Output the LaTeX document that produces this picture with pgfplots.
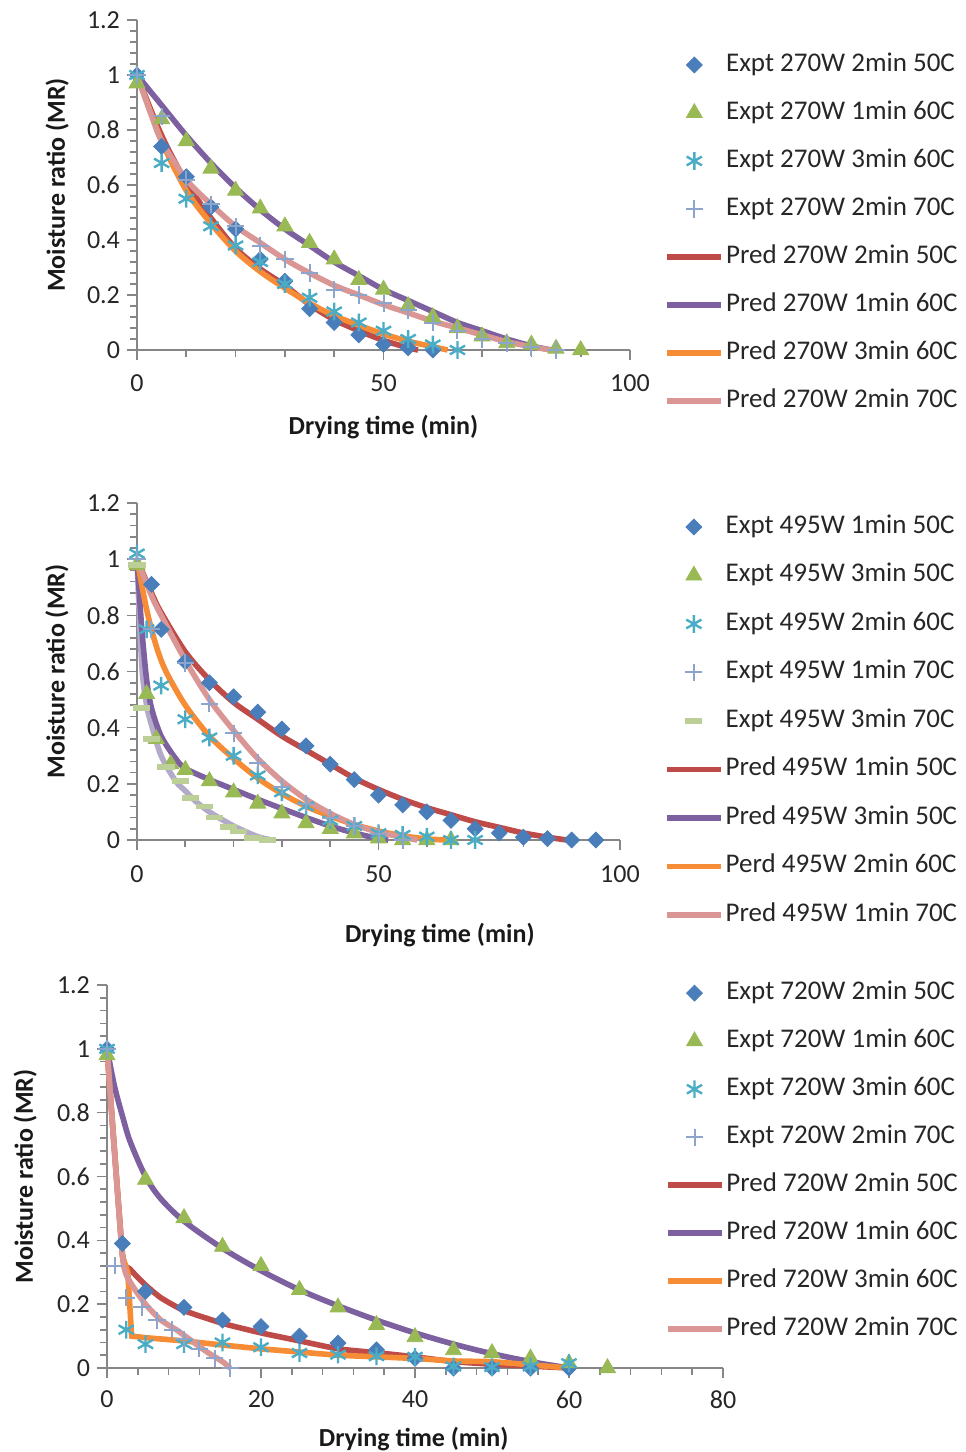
\documentclass[border=0pt]{standalone}
\usepackage{fontspec}
\setmainfont{Carlito}
\usepackage{pgfplots}
\pgfplotsset{compat=1.18}

\definecolor{axgrey}{HTML}{868686}
\definecolor{cBlue}{HTML}{4A7EBB}
\definecolor{cGreen}{HTML}{98B954}
\definecolor{cCyan}{HTML}{4BACC6}
\definecolor{cPlus}{HTML}{8EA5CB}
\definecolor{cDash}{HTML}{BCCF96}
\definecolor{cRed}{HTML}{BE4B48}
\definecolor{cPurple}{HTML}{7D60A0}
\definecolor{cOrange}{HTML}{F68C36}
\definecolor{cPink}{HTML}{D99694}
\definecolor{cGrey}{HTML}{B3A9C9}

\pgfplotsset{
  dry/.style={
    scale only axis, clip=false,
    axis x line*=bottom, axis y line*=left,
    axis line style={axgrey, line width=0.8pt},
    tick style={axgrey, line width=0.8pt},
    tick align=outside, major tick length=5pt, minor tick length=3.5pt,
    ymin=0, ymax=1.2, ytick={0,0.2,0.4,0.6,0.8,1,1.2}, minor y tick num=4,
    tick label style={font=\fontsize{13}{15}\selectfont, text=black!85},
    /pgf/number format/assume math mode=true,
    label style={font=\bfseries\fontsize{13}{15}\selectfont, text=black!90},
    ylabel={Moisture ratio (MR)}, xlabel={Drying time (min)},
    legend cell align=left,
    legend style={draw=none, fill=none, anchor=north west,
      font=\fontsize{13.5}{15}\selectfont, text=black!85, row sep=9.5pt,
      nodes={inner sep=1pt, text height=9.5pt, text depth=3pt}},
  },
  ex/.style={only marks,
    legend image code/.code={\path (0pt,0pt) (27pt,0pt); \draw[##1] plot coordinates {(13.5pt,0pt)};}},
  pr/.style={line width=2.8pt, smooth, tension=0.5, no markers,
    legend image code/.code={\draw[##1] (0pt,0pt) -- (27pt,0pt);}},
  eA/.style={ex, mark=square*, mark size=2.8pt, mark options={rotate=45}, color=cBlue},
  eB/.style={ex, mark=triangle*, mark size=4.6pt, color=cGreen},
  eC/.style={ex, mark=asterisk, mark size=4.4pt, color=cCyan, mark options={line width=1.2pt}},
  eD/.style={ex, mark=+, mark size=4.3pt, color=cPlus, mark options={line width=1pt}},
  eE/.style={ex, mark=-, mark size=4.3pt, color=cDash, mark options={line width=2.8pt}},
}

\begin{document}
\begin{tikzpicture}
\useasboundingbox (0,0) rectangle (482.5pt,-726pt);

% ---------- 270 W ----------
\begin{axis}[dry, at={(68.5pt,-175pt)}, anchor=south west,
  width=246.5pt, height=165pt, xmin=0, xmax=100, xtick={0,50,100}, minor x tick num=4,
  xticklabel style={yshift=-4pt},
  ylabel style={at={(axis description cs:-0.162,0.5)}, anchor=center},
  xlabel style={at={(axis description cs:0.5,0)}, anchor=center, yshift=-38.5pt},
  legend style={at={(axis description cs:1.057,0.921)}}]
\addplot[eA] coordinates {(0,1) (5,0.74) (10,0.63) (15,0.52) (20,0.44) (25,0.33) (30,0.25) (35,0.15) (40,0.10) (45,0.055) (50,0.02) (55,0.008) (60,0)};
\addlegendentry{Expt 270W 2min 50C}
\addplot[eB] coordinates {(0,0.97) (5,0.84) (10,0.76) (15,0.66) (20,0.58) (25,0.515) (30,0.45) (35,0.39) (40,0.33) (45,0.255) (50,0.22) (55,0.16) (60,0.12) (65,0.08) (70,0.05) (75,0.025) (80,0.02) (85,0.005) (90,0)};
\addlegendentry{Expt 270W 1min 60C}
\addplot[eC] coordinates {(0,1) (5,0.68) (10,0.55) (15,0.45) (20,0.38) (25,0.32) (30,0.24) (35,0.19) (40,0.14) (45,0.10) (50,0.07) (55,0.04) (60,0.02) (65,0)};
\addlegendentry{Expt 270W 3min 60C}
\addplot[eD] coordinates {(0,1) (5,0.85) (10,0.62) (15,0.53) (20,0.45) (25,0.38) (30,0.33) (35,0.28) (40,0.22) (45,0.2) (50,0.17) (55,0.145) (60,0.10) (65,0.07) (70,0.04) (75,0.025) (80,0.01) (85,0)};
\addlegendentry{Expt 270W 2min 70C}
\addplot[pr, cRed] coordinates {(0,1) (5,0.78) (10,0.61) (15,0.48) (20,0.37) (25,0.295) (30,0.235) (35,0.165) (40,0.11) (45,0.07) (50,0.035) (55,0.008) (57,0)};
\addlegendentry{Pred 270W 2min 50C}
\addplot[pr, cPurple] coordinates {(0,1) (5,0.89) (10,0.78) (15,0.68) (20,0.59) (25,0.51) (30,0.44) (35,0.38) (40,0.32) (45,0.27) (50,0.22) (55,0.18) (60,0.14) (65,0.10) (70,0.07) (75,0.04) (80,0.015) (84,0)};
\addlegendentry{Pred 270W 1min 60C}
\addplot[pr, cOrange] coordinates {(0,1) (5,0.76) (10,0.58) (15,0.46) (20,0.36) (25,0.285) (30,0.225) (35,0.17) (40,0.125) (45,0.09) (50,0.058) (55,0.032) (60,0.012) (63,0)};
\addlegendentry{Pred 270W 3min 60C}
\addplot[pr, cPink] coordinates {(0,1) (3,0.85) (5,0.76) (10,0.62) (15,0.53) (20,0.45) (25,0.39) (30,0.33) (35,0.28) (40,0.235) (45,0.2) (50,0.165) (55,0.135) (60,0.105) (65,0.08) (70,0.055) (75,0.03) (80,0.012) (84,0)};
\addlegendentry{Pred 270W 2min 70C}
\end{axis}

% ---------- 495 W ----------
\begin{axis}[dry, at={(68.5pt,-420pt)}, anchor=south west,
  width=241.5pt, height=168.5pt, xmin=0, xmax=100, xtick={0,50,100}, minor x tick num=4,
  xticklabel style={yshift=-4.5pt},
  ylabel style={at={(axis description cs:-0.166,0.5)}, anchor=center},
  xlabel style={at={(axis description cs:0.627,0)}, anchor=center, yshift=-47.5pt},
  legend style={at={(axis description cs:1.078,0.985)}, row sep=9.75pt}]
\addplot[eA] coordinates {(3,0.91) (5,0.75) (10,0.635) (15,0.56) (20,0.51) (25,0.455) (30,0.395) (35,0.335) (40,0.27) (45,0.215) (50,0.16) (55,0.125) (60,0.10) (65,0.07) (70,0.04) (75,0.025) (80,0.01) (85,0.005) (90,0) (95,0)};
\addlegendentry{Expt 495W 1min 50C}
\addplot[eB] coordinates {(0,0.98) (2,0.52) (4,0.36) (7,0.27) (10,0.25) (15,0.21) (20,0.17) (25,0.13) (30,0.095) (35,0.06) (40,0.04) (45,0.024) (50,0.006) (55,0) (60,0) (65,0)};
\addlegendentry{Expt 495W 3min 50C}
\addplot[eC] coordinates {(0,1.02) (2,0.75) (5,0.55) (10,0.43) (15,0.365) (20,0.30) (25,0.23) (30,0.17) (35,0.12) (40,0.07) (45,0.05) (50,0.024) (55,0.018) (60,0.012) (65,0) (70,0)};
\addlegendentry{Expt 495W 2min 60C}
\addplot[eD] coordinates {(0,1) (3,0.75) (10,0.63) (15,0.485) (20,0.38) (25,0.275) (30,0.19) (35,0.13) (40,0.08) (45,0.05) (50,0.02) (55,0)};
\addlegendentry{Expt 495W 1min 70C}
\addplot[eE] coordinates {(0,0.98) (1,0.47) (3,0.36) (6,0.26) (9,0.21) (11,0.15) (14,0.12) (16,0.08) (19,0.046) (21,0.03) (24,0.007) (27,0)};
\addlegendentry{Expt 495W 3min 70C}
\addplot[pr, cGrey, forget plot] coordinates {(0,1) (1,0.62) (2,0.48) (3,0.41) (5,0.3) (8,0.21) (10,0.175) (12,0.14) (15,0.1) (20,0.05) (25,0.012) (28,0)};
\addplot[pr, cRed] coordinates {(0,1) (3,0.88) (5,0.81) (10,0.67) (15,0.57) (20,0.49) (25,0.43) (30,0.37) (35,0.32) (40,0.27) (45,0.22) (50,0.18) (55,0.145) (60,0.115) (65,0.09) (70,0.065) (75,0.045) (80,0.025) (85,0.01) (89,0)};
\addlegendentry{Pred 495W 1min 50C}
\addplot[pr, cPurple] coordinates {(0,1) (1,0.75) (2,0.57) (3,0.47) (5,0.37) (8,0.29) (10,0.255) (15,0.215) (20,0.18) (25,0.145) (30,0.112) (35,0.08) (40,0.05) (45,0.025) (50,0.005) (52,0)};
\addlegendentry{Pred 495W 3min 50C}
\addplot[pr, cOrange] coordinates {(0,1) (2,0.82) (4,0.69) (6,0.6) (10,0.48) (15,0.37) (20,0.29) (25,0.22) (30,0.165) (35,0.12) (40,0.085) (45,0.055) (50,0.032) (55,0.015) (60,0.004) (64,0)};
\addlegendentry{Perd 495W 2min 60C}
\addplot[pr, cPink] coordinates {(0,1) (3,0.87) (5,0.8) (10,0.64) (15,0.5) (20,0.39) (25,0.29) (30,0.21) (35,0.145) (40,0.095) (45,0.055) (50,0.028) (55,0.01) (58,0)};
\addlegendentry{Pred 495W 1min 70C}
\end{axis}

% ---------- 720 W ----------
\begin{axis}[dry, at={(53.5pt,-684pt)}, anchor=south west,
  width=308pt, height=191.5pt, xmin=0, xmax=80, xtick={0,20,40,60,80}, minor x tick num=4,
  xticklabel style={yshift=-3pt},
  ylabel style={at={(axis description cs:-0.133,0.5)}, anchor=center},
  xlabel style={at={(axis description cs:0.498,0)}, anchor=center, yshift=-35.5pt},
  legend style={at={(axis description cs:0.895,1.028)}}]
\addplot[eA] coordinates {(0,1) (2,0.39) (5,0.24) (10,0.19) (15,0.15) (20,0.13) (25,0.10) (30,0.078) (35,0.057) (40,0.03) (45,0) (50,0) (55,0) (60,0)};
\addlegendentry{Expt 720W 2min 50C}
\addplot[eB] coordinates {(0,0.98) (5,0.59) (10,0.47) (15,0.38) (20,0.32) (25,0.245) (30,0.19) (35,0.135) (40,0.097) (45,0.056) (50,0.047) (55,0.03) (60,0.015) (65,0)};
\addlegendentry{Expt 720W 1min 60C}
\addplot[eC] coordinates {(0,1) (2.5,0.12) (5,0.075) (10,0.075) (15,0.08) (20,0.065) (25,0.047) (30,0.042) (35,0.037) (40,0.035) (45,0.005) (50,0.003) (55,0.005) (60,0.015)};
\addlegendentry{Expt 720W 3min 60C}
\addplot[eD] coordinates {(0,1) (1,0.32) (2.5,0.22) (4.5,0.19) (6.5,0.15) (8.5,0.12) (10,0.09) (12,0.06) (14,0.03) (16,0)};
\addlegendentry{Expt 720W 2min 70C}
\addplot[pr, cRed, tension=0.3] coordinates {(0,1) (2,0.36) (3,0.31) (5,0.26) (7,0.22) (10,0.18) (15,0.14) (20,0.11) (25,0.085) (30,0.06) (35,0.048) (40,0.035) (45,0.02) (50,0.012) (55,0.006) (60,0)};
\addlegendentry{Pred 720W 2min 50C}
\addplot[pr, cPurple] coordinates {(0,1) (1,0.88) (2,0.79) (3,0.71) (5,0.6) (7,0.53) (10,0.46) (15,0.375) (20,0.305) (25,0.245) (30,0.195) (35,0.15) (40,0.11) (45,0.075) (50,0.045) (55,0.02) (60,0)};
\addlegendentry{Pred 720W 1min 60C}
\addplot[pr, cOrange, sharp plot] coordinates {(0,1) (2,0.35) (2.7,0.3) (3.2,0.1) (5,0.095) (10,0.085) (15,0.072) (20,0.06) (25,0.05) (30,0.04) (35,0.035) (40,0.03) (45,0.022) (50,0.02) (55,0.01) (60,0)};
\addlegendentry{Pred 720W 3min 60C}
\addplot[pr, cPink, tension=0.3] coordinates {(0,1) (2,0.35) (3,0.27) (5,0.2) (7,0.15) (9,0.12) (11,0.085) (13,0.05) (15,0.02) (16,0)};
\addlegendentry{Pred 720W 2min 70C}
\end{axis}
\end{tikzpicture}
\end{document}
